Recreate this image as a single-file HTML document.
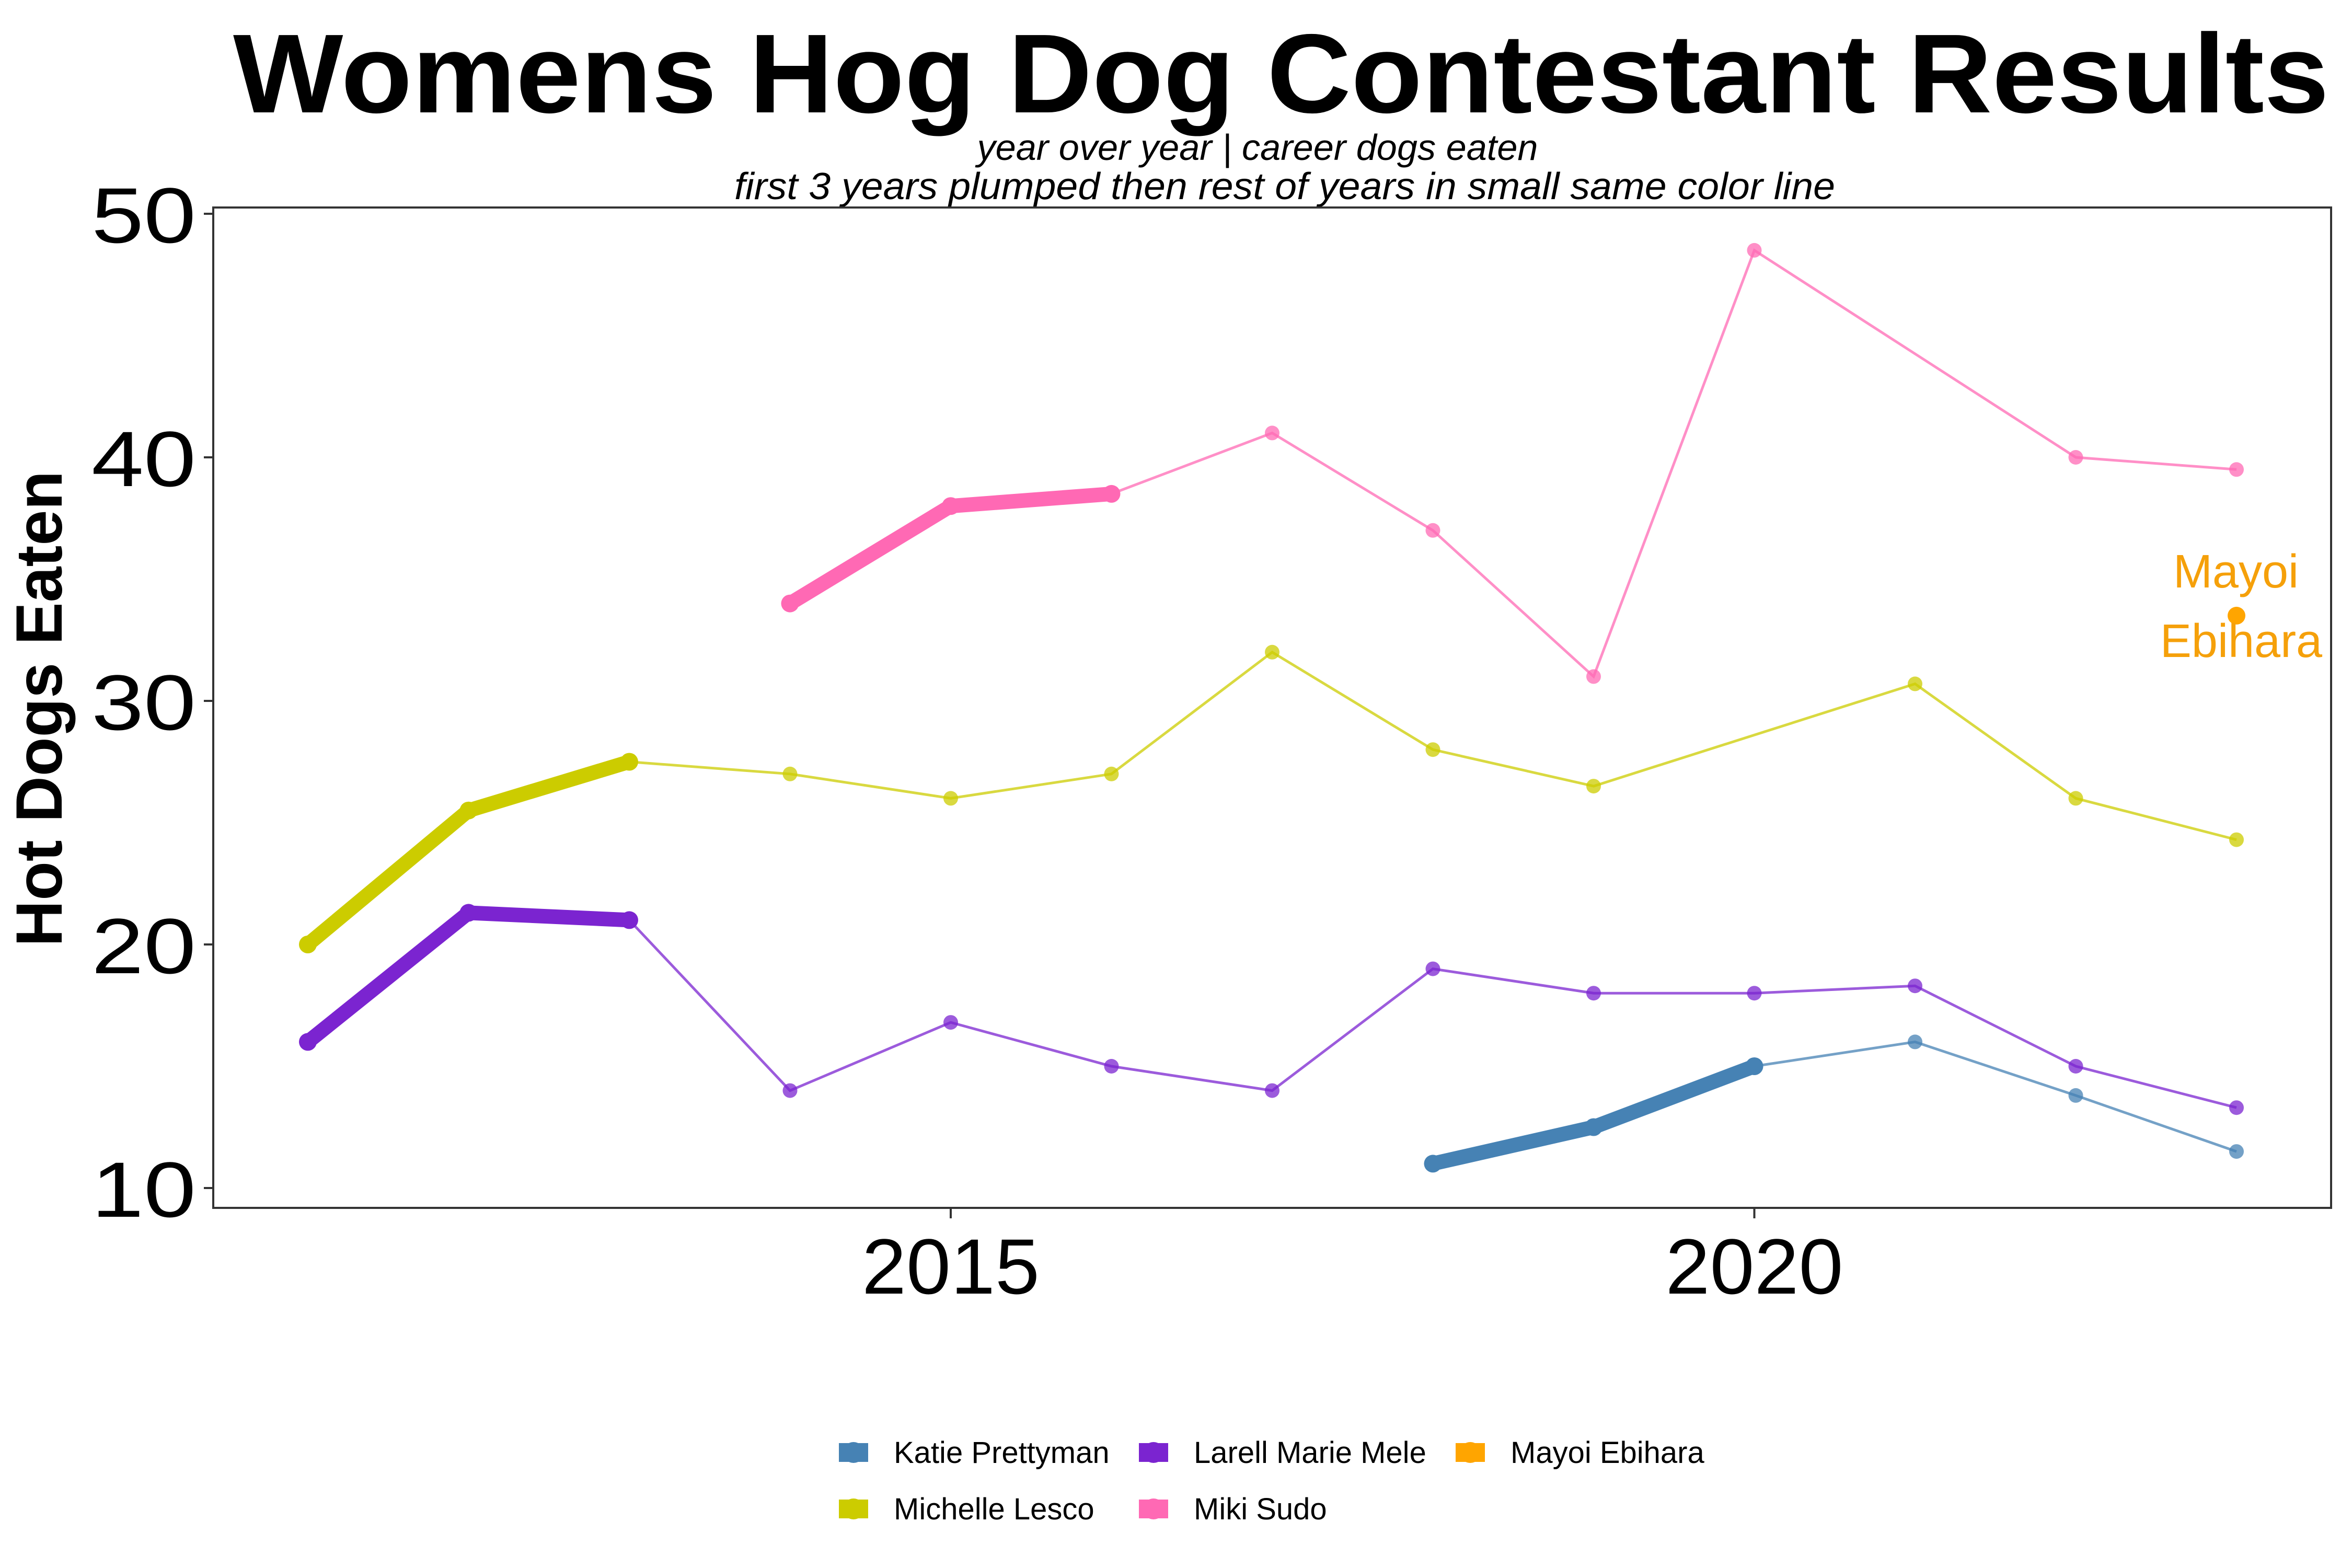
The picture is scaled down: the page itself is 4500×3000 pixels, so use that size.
<!DOCTYPE html>
<html><head><meta charset="utf-8"><style>
html,body{margin:0;padding:0;background:#fff;}
svg{display:block;}
</style></head><body>
<svg id="chart" width="4500" height="3000" viewBox="0 0 4500 3000" xmlns="http://www.w3.org/2000/svg" font-family="Liberation Sans, sans-serif">
<text x="2451" y="215" text-anchor="middle" font-size="215" font-weight="bold" textLength="4010" lengthAdjust="spacingAndGlyphs">Womens Hog Dog Contestant Results</text>
<text x="2406" y="306" text-anchor="middle" font-size="70" font-style="italic" textLength="1073" lengthAdjust="spacingAndGlyphs">year over year | career dogs eaten</text>
<text x="2458" y="381" text-anchor="middle" font-size="72" font-style="italic" textLength="2106" lengthAdjust="spacingAndGlyphs">first 3 years plumped then rest of years in small same color line</text>
<rect x="408" y="397" width="4052" height="1914" fill="none" stroke="#333" stroke-width="4"/>
<g id="axes"></g>
<g id="series"></g>
<text transform="translate(118,1356) rotate(-90)" text-anchor="middle" font-size="125" font-weight="bold" textLength="910" lengthAdjust="spacingAndGlyphs">Hot Dogs Eaten</text>
<text x="4278" y="1124" text-anchor="middle" font-size="90" fill="#F5A00A">Mayoi</text>
<text x="4288" y="1257" text-anchor="middle" font-size="90" fill="#F5A00A">Ebihara</text>
<g id="legend"></g>
</svg>
<script>
const years = [2011,2012,2013,2014,2015,2016,2017,2018,2019,2020,2021,2022,2023];
const names = ["Katie Prettyman","Larell Marie Mele","Mayoi Ebihara","Michelle Lesco","Miki Sudo"];
const colors = ["#4682B4","#7B24D0","#FFA500","#CCCC00","#FF69B4"];
const katie = [null,null,null,null,null,null,null,11,12.5,15,16,13.8,11.5];
const larell = [16,21.3,21,14,16.8,15,14,19,18,18,18.3,15,13.3];
const mayoi = [null,null,null,null,null,null,null,null,null,null,null,null,33.5];
const michelle = [20,25.5,27.5,27,26,27,32,28,26.5,null,30.7,26,24.3];
const miki = [null,null,null,34,38,38.5,41,37,31,48.5,null,40,39.5];
const yTicks = [10,20,30,40,50];
const xTicks = [2015,2020];

const NS="http://www.w3.org/2000/svg";
function x(yr){return 589+(yr-2011)*307.5;}
function y(v){return 2273-(v-10)*46.6;}
function mk(tag,attrs,parent){const e=document.createElementNS(NS,tag);for(const k in attrs)e.setAttribute(k,attrs[k]);parent.appendChild(e);return e;}

const axes=document.getElementById('axes');
yTicks.forEach(t=>{
  const l=mk('line',{x1:390,x2:408,y1:y(t),y2:y(t),stroke:'#333','stroke-width':4},axes);
  
  
  const tx=mk('text',{x:375,y:y(t)+55,'text-anchor':'end','font-size':150,textLength:200,lengthAdjust:'spacingAndGlyphs'},axes);
  tx.textContent=t;
  
  
});
xTicks.forEach(t=>{
  const l=mk('line',{x1:x(t),x2:x(t),y1:2311,y2:2331,stroke:'#333','stroke-width':4},axes);
  
  
  const tx=mk('text',{x:x(t),y:2475,'text-anchor':'middle','font-size':150,textLength:340,lengthAdjust:'spacingAndGlyphs'},axes);
  tx.textContent=t;
  
  
});

const seriesG=document.getElementById('series');
const allSeries=[katie,larell,mayoi,michelle,miki];
const order=[3,1,4,0,2];
order.forEach(si=>{
  const vals=allSeries[si], c=colors[si];
  const g=mk('g',{},seriesG);
  
  
  const pts=[];
  vals.forEach((v,i)=>{if(v!==null)pts.push([x(years[i]),y(v)]);});
  if(pts.length>3){
    const p=mk('polyline',{points:pts.slice(2).map(p=>p.join(',')).join(' '),fill:'none',stroke:c,'stroke-width':5,'stroke-opacity':0.75},g);
    
    
  }
  if(pts.length>1){
    const p=mk('polyline',{points:pts.slice(0,3).map(p=>p.join(',')).join(' '),fill:'none',stroke:c,'stroke-width':28,'stroke-linejoin':'round','stroke-linecap':'round'},g);
    
    
  }
  pts.forEach((p,i)=>{
    const cc=mk('circle',{cx:p[0],cy:p[1],r:i<3?17:14,fill:c,'fill-opacity':i<3?1:0.75},g);
    
    
  });
});

const legend=document.getElementById('legend');
const lpos=[[1633,2779],[2207,2779],[2813,2779],[1633,2887],[2207,2887]];
names.forEach((n,i)=>{
  const [lx,ly]=lpos[i];
  const g=mk('g',{},legend);
  
  
  mk('rect',{x:lx-28,y:ly-18,width:56,height:36,fill:colors[i]},g);
  mk('circle',{cx:lx,cy:ly,r:20,fill:colors[i]},g);
  const t=mk('text',{x:lx+77,y:ly+20,'font-size':58},g);
  t.textContent=n;
});
</script>
</body></html>
